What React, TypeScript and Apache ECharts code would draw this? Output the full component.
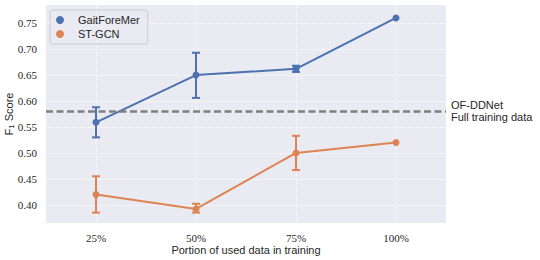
import React, { useEffect, useRef } from "react";
import * as echarts from "echarts";

const categories = ["25%", "50%", "75%", "100%"];
const gaitMean = [0.559, 0.65, 0.662, 0.76];
const gaitLow = [0.53, 0.606, 0.656, 0.76];
const gaitHigh = [0.588, 0.693, 0.668, 0.76];
const stMean = [0.42, 0.392, 0.5, 0.52];
const stLow = [0.385, 0.385, 0.467, 0.52];
const stHigh = [0.455, 0.402, 0.533, 0.52];
const yTicks = [0.4, 0.45, 0.5, 0.55, 0.6, 0.65, 0.7, 0.75];
const baselineValue = 0.58;
const baselineLabel = "OF-DDNet\nFull training data";

const BLUE = "#4C72B0";
const ORANGE = "#DD8452";
const SANS = "Liberation Sans, DejaVu Sans, sans-serif";
const SERIF = "Liberation Serif, DejaVu Serif, serif";

function errorSeries(name: string, low: number[], high: number[], color: string) {
  return {
    type: "custom",
    name: name + "-err",
    z: 3,
    silent: true,
    data: low.map((l, i) => [i, l, high[i]]),
    renderItem: (params: any, api: any) => {
      const x = api.value(0);
      const lo = api.coord([x, api.value(1)]);
      const hi = api.coord([x, api.value(2)]);
      const cw = 4;
      const style = { stroke: color, lineWidth: 2 };
      if (Math.abs(lo[1] - hi[1]) < 0.5) return { type: "group", children: [] };
      return {
        type: "group",
        children: [
          { type: "line", shape: { x1: lo[0], y1: lo[1], x2: hi[0], y2: hi[1] }, style },
          { type: "line", shape: { x1: lo[0] - cw, y1: lo[1], x2: lo[0] + cw, y2: lo[1] }, style },
          { type: "line", shape: { x1: hi[0] - cw, y1: hi[1], x2: hi[0] + cw, y2: hi[1] }, style },
        ],
      };
    },
  };
}

export default function App() {
  const ref = useRef<HTMLDivElement>(null);
  useEffect(() => {
    if (!ref.current) return;
    const chart = echarts.init(ref.current, undefined, { renderer: "svg" });
    chart.setOption({
      animation: false,
      backgroundColor: "#ffffff",
      grid: {
        left: 46,
        right: 94,
        top: 5,
        bottom: 37,
        containLabel: false,
        outerBoundsMode: "none",
        show: true,
        backgroundColor: "#EAEAF2",
        borderWidth: 0,
      },
      legend: {
        left: 50,
        top: 10,
        orient: "vertical",
        padding: [3, 8, 3, 6],
        itemGap: 0,
        itemWidth: 18,
        itemHeight: 8,
        icon: "circle",
        backgroundColor: "rgba(234,234,242,0.85)",
        borderColor: "#cccccc",
        borderWidth: 1,
        borderRadius: 3,
        data: ["GaitForeMer", "ST-GCN"],
        textStyle: {
          fontFamily: SANS,
          fontSize: 11,
          color: "#262626",
          lineHeight: 14,
          padding: [0, 0, 0, 4],
        },
      },
      xAxis: {
        type: "value",
        min: -0.5,
        max: 3.5,
        axisLine: { show: false },
        axisTick: { show: false, customValues: [0, 1, 2, 3] },
        axisLabel: {
          customValues: [0, 1, 2, 3],
          formatter: (v: number) => categories[Math.round(v)] ?? "",
          fontFamily: SERIF,
          fontSize: 11,
          color: "#262626",
          margin: 9,
        },
        splitLine: { show: true, lineStyle: { color: "#ffffff", type: "dotted", width: 1 } },
        name: "Portion of used data in training",
        nameLocation: "middle",
        nameGap: 21,
        nameMoveOverlap: false,
        nameTextStyle: { fontFamily: SANS, fontSize: 11, color: "#262626" },
      },
      yAxis: {
        type: "value",
        min: 0.365,
        max: 0.785,
        axisLine: { show: false },
        axisTick: { show: false, customValues: yTicks },
        axisLabel: {
          customValues: yTicks,
          formatter: (v: number) => v.toFixed(2),
          fontFamily: SERIF,
          fontSize: 11,
          color: "#262626",
          margin: 9,
        },
        splitLine: { show: true, lineStyle: { color: "#ffffff", type: "dotted", width: 1 } },
        name: "{a|F}{b|1}{a| Score}",
        nameLocation: "middle",
        nameGap: 31,
        nameMoveOverlap: false,
        nameTextStyle: {
          rich: {
            a: { fontFamily: SANS, fontSize: 11, color: "#262626" },
            b: { fontFamily: SANS, fontSize: 8, color: "#262626", verticalAlign: "bottom", padding: [5, 0, 0, 0] },
          },
        },
      },
      series: [
        {
          type: "line",
          name: "GaitForeMer",
          data: gaitMean.map((v, i) => [i, v]),
          color: BLUE,
          lineStyle: { width: 2, color: BLUE },
          symbol: "circle",
          symbolSize: 7,
          itemStyle: { color: BLUE },
          z: 4,
          markLine: {
            silent: true,
            symbol: "none",
            data: [{ yAxis: baselineValue }],
            lineStyle: { color: "#808080", type: [7, 3.5], width: 2.5 },
            label: {
              show: true,
              position: "end",
              distance: 5,
              formatter: baselineLabel,
              fontFamily: SANS,
              fontSize: 11,
              lineHeight: 12,
              color: "#262626",
              align: "left",
            },
          },
        },
        {
          type: "line",
          name: "ST-GCN",
          data: stMean.map((v, i) => [i, v]),
          color: ORANGE,
          lineStyle: { width: 2, color: ORANGE },
          symbol: "circle",
          symbolSize: 7,
          itemStyle: { color: ORANGE },
          z: 4,
        },
        errorSeries("GaitForeMer", gaitLow, gaitHigh, BLUE),
        errorSeries("ST-GCN", stLow, stHigh, ORANGE),
      ],
    });
    return () => chart.dispose();
  }, []);
  return (
    <div
      ref={ref}
      style={{ position: "absolute", left: 0, top: 0, width: 540, height: 260 }}
    />
  );
}
